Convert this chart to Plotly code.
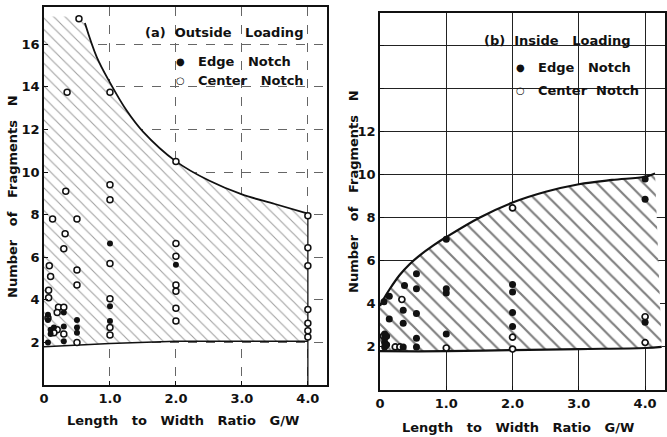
import plotly.graph_objects as go

# ---------------- Panel (a) Outside Loading ----------------
a_edge_x = [0.06, 0.06, 0.06, 0.1, 0.1, 0.15, 0.3, 0.3, 0.3, 0.5, 0.5, 0.5, 1.0, 1.0, 1.0, 2.0]
a_edge_y = [2.0, 3.3, 3.05, 2.6, 2.4, 2.7, 3.4, 2.75, 2.05, 3.05, 2.7, 2.45, 6.65, 3.7, 3.0, 5.65]

a_center_x = [0.53, 0.35, 0.33, 0.13, 0.5, 0.32, 0.3, 0.08, 0.1, 0.5, 0.5, 0.07, 0.07, 0.22, 0.3,
              0.2, 0.06, 0.2, 0.3, 0.5, 0.15,
              1.0, 1.0, 1.0, 1.0, 1.0, 1.0, 1.0,
              2.0, 2.0, 2.0, 2.0, 2.0, 2.0, 2.0,
              4.0, 4.0, 4.0, 4.0, 4.0, 4.0, 4.0]
a_center_y = [17.2, 13.75, 9.1, 7.8, 7.8, 7.1, 6.4, 5.6, 5.1, 5.4, 4.7, 4.45, 4.1, 3.65, 3.65,
              3.4, 3.15, 2.6, 2.4, 2.0, 2.45,
              13.75, 9.4, 8.7, 5.7, 4.05, 2.7, 2.35,
              10.5, 6.65, 6.05, 4.7, 4.4, 3.6, 3.0,
              7.95, 6.45, 5.6, 3.55, 2.9, 2.55, 2.25]

a_upper_x = [0.62, 0.8, 1.0, 1.25, 1.5, 2.0, 2.5, 3.0, 3.5, 4.0]
a_upper_y = [17.0, 15.4, 14.2, 12.9, 11.9, 10.5, 9.6, 8.95, 8.5, 8.05]
a_lower_x = [0, 0.5, 1.0, 2.0, 3.0, 4.0]
a_lower_y = [1.8, 1.87, 1.95, 2.05, 2.05, 2.05]
a_top = 17.3

# ---------------- Panel (b) Inside Loading ----------------
b_edge_x = [4.0, 4.0, 4.0, 2.0, 2.0, 2.0, 2.0, 1.0, 1.0, 1.0, 1.0,
            0.55, 0.55, 0.55, 0.55, 0.55, 0.37, 0.35, 0.35, 0.35,
            0.14, 0.14, 0.06, 0.07, 0.07, 0.07, 0.07, 0.1, 0.1]
b_edge_y = [9.8, 8.85, 3.15, 4.9, 4.55, 3.6, 2.95, 7.0, 4.7, 4.5, 2.6,
            5.4, 4.7, 3.55, 2.4, 2.0, 4.85, 3.7, 3.1, 2.0,
            4.35, 3.3, 4.1, 2.6, 2.4, 2.2, 2.0, 2.5, 2.1]

b_center_x = [4.0, 4.0, 2.0, 2.0, 2.0, 1.0, 0.33, 0.23, 0.3, 0.05]
b_center_y = [3.4, 2.2, 8.45, 2.45, 1.9, 1.95, 4.2, 2.0, 2.0, 2.5]

b_upper_x = [0, 0.05, 0.15, 0.3, 0.45, 0.6, 0.8, 1.0, 1.5, 2.0, 2.5, 3.0, 3.5, 4.0, 4.15]
b_upper_y = [3.9, 4.2, 4.7, 5.35, 5.85, 6.25, 6.7, 7.1, 8.0, 8.7, 9.2, 9.55, 9.75, 9.9, 10.05]
b_lower_x = [0, 1.0, 2.0, 3.0, 4.0, 4.25]
b_lower_y = [1.8, 1.8, 1.85, 1.9, 1.95, 2.0]

x_ticks = [0, 1, 2, 3, 4]
x_ticktext = ["0", "1.0", "2.0", "3.0", "4.0"]
a_yticks = [2, 4, 6, 8, 10, 12, 14, 16]
b_yticks = [2, 4, 6, 8, 10, 12, 14, 16]
b_yticktext = ["2", "4", "6", "8", "10", "12", "", ""]

W, H = 667, 437
FONT = "DejaVu Sans"
INK = "#111111"


def px(x):
    return x / W


def py(y):
    return 1 - y / H


fig = go.Figure()

# hatched region (a)
poly_ax = [0] + [0, a_upper_x[0]] + a_upper_x + [a_upper_x[-1]] + a_lower_x[::-1]
poly_ay = [a_lower_y[0]] + [a_top, a_top] + a_upper_y + [a_lower_y[-1]] + a_lower_y[::-1]
fig.add_trace(go.Scatter(x=poly_ax, y=poly_ay, xaxis="x", yaxis="y", mode="none",
                         fill="toself", fillcolor="rgba(0,0,0,0)",
                         fillpattern=dict(shape="\\", fgcolor="#444444", bgcolor="white",
                                          size=8, solidity=0.14),
                         hoverinfo="skip", showlegend=False))
fig.add_trace(go.Scatter(x=a_upper_x, y=a_upper_y, xaxis="x", yaxis="y", mode="lines",
                         line=dict(color=INK, width=1.8, shape="spline"), showlegend=False))
fig.add_trace(go.Scatter(x=a_lower_x, y=a_lower_y, xaxis="x", yaxis="y", mode="lines",
                         line=dict(color=INK, width=1.5), showlegend=False))
fig.add_trace(go.Scatter(x=[a_upper_x[-1], a_upper_x[-1]], y=[0, a_upper_y[-1]], xaxis="x", yaxis="y",
                         mode="lines", line=dict(color=INK, width=1.3), showlegend=False))
fig.add_trace(go.Scatter(x=a_center_x, y=a_center_y, xaxis="x", yaxis="y", mode="markers",
                         marker=dict(symbol="circle", size=6, color="white",
                                     line=dict(color=INK, width=1.5)), showlegend=False))
fig.add_trace(go.Scatter(x=a_edge_x, y=a_edge_y, xaxis="x", yaxis="y", mode="markers",
                         marker=dict(symbol="circle", size=6, color=INK), showlegend=False))

# hatched region (b)
poly_bx = b_upper_x + b_lower_x[::-1]
poly_by = b_upper_y + b_lower_y[::-1]
fig.add_trace(go.Scatter(x=poly_bx, y=poly_by, xaxis="x2", yaxis="y2", mode="none",
                         fill="toself", fillcolor="rgba(0,0,0,0)",
                         fillpattern=dict(shape="\\", fgcolor="#000000", bgcolor="white",
                                          size=11, solidity=0.2),
                         hoverinfo="skip", showlegend=False))
fig.add_trace(go.Scatter(x=b_upper_x, y=b_upper_y, xaxis="x2", yaxis="y2", mode="lines",
                         line=dict(color=INK, width=2.2, shape="spline"), showlegend=False))
fig.add_trace(go.Scatter(x=b_lower_x, y=b_lower_y, xaxis="x2", yaxis="y2", mode="lines",
                         line=dict(color=INK, width=2.2, shape="spline"), showlegend=False))
fig.add_trace(go.Scatter(x=b_center_x, y=b_center_y, xaxis="x2", yaxis="y2", mode="markers",
                         marker=dict(symbol="circle", size=6, color="white",
                                     line=dict(color=INK, width=1.7)), showlegend=False))
fig.add_trace(go.Scatter(x=b_edge_x, y=b_edge_y, xaxis="x2", yaxis="y2", mode="markers",
                         marker=dict(symbol="circle", size=7, color=INK), showlegend=False))

axis_common = dict(showline=True, linecolor=INK, linewidth=1.8, mirror=True,
                   ticks="inside", ticklen=4, tickcolor=INK, zeroline=False, automargin=False,
                   tickfont=dict(family=FONT, size=13, color=INK, weight="bold"))

fig.update_layout(
    width=W, height=H, margin=dict(l=0, r=0, t=0, b=0),
    paper_bgcolor="white", plot_bgcolor="white",
    xaxis=dict(domain=[px(44), px(327)], range=[0, 4.29], anchor="y",
               tickvals=x_ticks, ticktext=x_ticktext,
               showgrid=True, gridcolor="#666666", gridwidth=0.8, griddash="dash",
               **axis_common),
    yaxis=dict(domain=[py(385), py(7)], range=[0, 17.75], anchor="x",
               tickvals=a_yticks,
               showgrid=True, gridcolor="#666666", gridwidth=0.8, griddash="dash",
               **axis_common),
    xaxis2=dict(domain=[px(380), px(665)], range=[0, 4.3], anchor="y2",
                tickvals=x_ticks, ticktext=x_ticktext,
                showgrid=True, gridcolor="#222222", gridwidth=1,
                **axis_common),
    yaxis2=dict(domain=[py(390), py(13)], range=[0, 17.5], anchor="x2",
                tickvals=b_yticks, ticktext=b_yticktext,
                showgrid=True, gridcolor="#222222", gridwidth=1,
                **axis_common),
)

ann = []


def label(x, y, text, size=13, angle=0, xanchor="center"):
    ann.append(dict(x=px(x), y=py(y), xref="paper", yref="paper", text=text,
                    showarrow=False, xanchor=xanchor, yanchor="middle", textangle=angle,
                    font=dict(family=FONT, size=size, color=INK, weight="bold")))


# panel (a) legend text
label(143, 33, "(a)  Outside   Loading", xanchor="left")
label(174, 61, "●", size=10, xanchor="left")
label(196, 61, "Edge   Notch", xanchor="left")
label(174, 81, "○", size=10, xanchor="left")
label(196, 81, "Center   Notch", xanchor="left")
# panel (b) legend text
label(482, 40, "(b)  Inside   Loading", xanchor="left")
label(514, 67, "●", size=10, xanchor="left")
label(536, 67, "Edge   Notch", xanchor="left")
label(514, 90, "○", size=10, xanchor="left")
label(536, 90, "Center  Notch", xanchor="left")
# axis titles
label(12, 197, "Number   of   Fragments   N", angle=-90)
label(183, 420, "Length   to   Width   Ratio   G/W")
label(354, 192, "Number   of   Fragments   N", angle=-90)
label(518, 427, "Length   to   Width   Ratio   G/W")

fig.update_layout(annotations=ann)
fig.write_html("out.html", config={"displayModeBar": False},
               post_script="document.body.style.margin='0';")
